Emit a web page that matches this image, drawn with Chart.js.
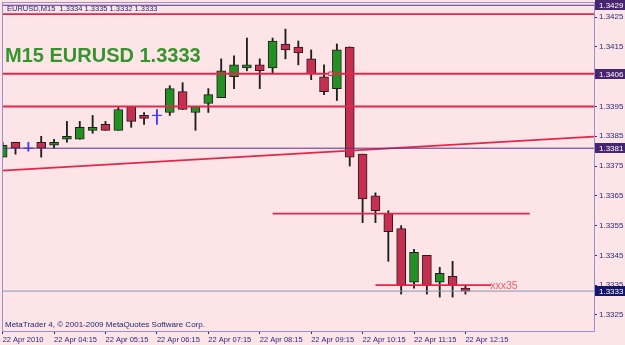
<!DOCTYPE html>
<html lang="en">
<head>
  <meta charset="UTF-8" />
  <title>EURUSD M15</title>
  <script src="https://cdn.jsdelivr.net/npm/chart.js@4.4.0/dist/chart.umd.min.js"></script>
  <style>
    html, body { margin: 0; padding: 0; background: #fde4e6; overflow: hidden; }
    #wrap { width: 625px; height: 345px; }
  </style>
</head>
<body>
  <div id="wrap"><canvas id="priceChart" width="625" height="345"></canvas></div>

  <script>
    // 15 minute bars, 22 Apr 2010
    const barTimes = ['03:15','03:30','03:45','04:00','04:15','04:30','04:45','05:00','05:15','05:30',
                      '05:45','06:00','06:15','06:30','06:45','07:00','07:15','07:30','07:45','08:00',
                      '08:15','08:30','08:45','09:00','09:15','09:30','09:45','10:00','10:15','10:30',
                      '10:45','11:00','11:15','11:30','11:45','12:00','12:15'];
    const opens  = [1.3378,1.3383,1.3381,1.3383,1.3382,1.3384,1.3384,1.3387,1.3389,1.3387,
                    1.3395,1.3392,1.3392,1.3393,1.3400,1.3393,1.3396,1.3398,1.3405,1.3408,
                    1.3409,1.3408,1.3416,1.3415,1.3411,1.3405,1.3401,1.3415,1.3379,1.3365,
                    1.3359,1.3354,1.3336,1.3345,1.3336,1.3338,1.3334];
    const highs  = [1.3383,1.3383,1.3383,1.3385,1.3384,1.3390,1.3390,1.3392,1.3390,1.3395,
                    1.3395,1.3393,1.3394,1.3402,1.3403,1.3395,1.3401,1.3411,1.3412,1.3418,
                    1.3411,1.3418,1.3421,1.3417,1.3414,1.3409,1.3416,1.3415,1.3379,1.3366,
                    1.3360,1.3355,1.3347,1.3345,1.3341,1.3343,1.3335];
    const lows   = [1.3378,1.3379,1.3380,1.3378,1.3381,1.3383,1.3384,1.3386,1.3387,1.3387,
                    1.3388,1.3389,1.3389,1.3392,1.3394,1.3387,1.3393,1.3398,1.3401,1.3407,
                    1.3401,1.3406,1.3411,1.3409,1.3404,1.3399,1.3397,1.3375,1.3356,1.3356,
                    1.3343,1.3332,1.3334,1.3332,1.3331,1.3331,1.3332];
    const closes = [1.3382,1.3381,1.3381,1.3381,1.3383,1.3385,1.3388,1.3388,1.3387,1.3394,
                    1.3390,1.3391,1.3392,1.3401,1.3394,1.3395,1.3399,1.3407,1.3409,1.3409,
                    1.3407,1.3417,1.3414,1.3413,1.3406,1.3400,1.3414,1.3378,1.3364,1.3360,
                    1.3353,1.3335,1.3346,1.3335,1.3339,1.3335,1.3333];

    // axis ticks
    const xTickBars = [0, 4, 8, 12, 16, 20, 24, 28, 32, 36];
    const xTickLabels = ['22 Apr 2010', '22 Apr 04:15', '22 Apr 05:15', '22 Apr 06:15', '22 Apr 07:15',
                         '22 Apr 08:15', '22 Apr 09:15', '22 Apr 10:15', '22 Apr 11:15', '22 Apr 12:15'];
    const yTicks = [1.3325, 1.3335, 1.3345, 1.3355, 1.3365, 1.3375, 1.3385, 1.3395, 1.3405, 1.3415, 1.3425];

    // chart objects
    const redLevels = [1.3426, 1.3406, 1.3395];
    const purpleLevels = [1.3429, 1.3381];
    const taggedLevels = [1.3429, 1.3406, 1.3381];
    const bidPrice = 1.3333;
    const trendPoints = [[-1, 1.33732], [47, 1.33851]];
    const levelSegment = [21, 41, 1.3359];
    const xxxSegment = [29, 38, 1.3335];
    const xxxLabel = 'xxx35';
    const anchorMark = [25.5, 1.3406];

    const BG = '#fde4e6';
    const NAVY = '#2a2a7e';
    const FRAME = '#9a8fd2';
    const RED = '#e3264b';
    const BULL = '#229022';
    const BEAR = '#c62f4f';
    const WICK = '#1e1e1e';
    const DOJI = '#3c3cff';
    const FONT = "'Liberation Sans', Arial, sans-serif";

    const isDoji = i => opens[i] === closes[i];
    const wickData = barTimes.map((t, i) => ({ x: i, y: [lows[i], highs[i]] }));
    const wickColors = barTimes.map((t, i) => isDoji(i) ? DOJI : WICK);
    const bodyData = barTimes.map((t, i) => ({ x: i, y: [opens[i], closes[i]] })).filter(d => !isDoji(d.x));
    const bodyColors = bodyData.map(d => closes[d.x] > opens[d.x] ? BULL : BEAR);
    const dojiData = barTimes.map((t, i) => ({ x: i, y: opens[i] })).filter(d => isDoji(d.x));

    const hLine = (y, color, width) => ({
      type: 'line',
      data: [{ x: -1, y: y }, { x: 47, y: y }],
      borderColor: color, borderWidth: width, pointRadius: 0, clip: 0, order: 1
    });
    const segLine = (seg, color, width) => ({
      type: 'line',
      data: [{ x: seg[0], y: seg[2] }, { x: seg[1], y: seg[2] }],
      borderColor: color, borderWidth: width, pointRadius: 0, clip: 0, order: 1
    });

    const background = {
      id: 'background',
      beforeDraw(chart) {
        const ctx = chart.ctx;
        ctx.save();
        ctx.fillStyle = BG;
        ctx.fillRect(0, 0, chart.width, chart.height);
        ctx.restore();
      }
    };

    const overlay = {
      id: 'overlay',
      afterDraw(chart) {
        const ctx = chart.ctx;
        const a = chart.chartArea;
        const xs = chart.scales.x, ys = chart.scales.y;
        ctx.save();

        // frame
        ctx.fillStyle = FRAME;
        ctx.fillRect(a.left, a.top, 1, a.bottom - a.top);
        ctx.fillRect(a.left, a.top, a.right - a.left, 1);
        ctx.fillRect(a.right, a.top, 1, a.bottom - a.top + 1);
        ctx.fillRect(a.left, a.bottom, a.right - a.left, 1);

        // price tags on the axis
        ctx.font = '8px ' + FONT;
        ctx.textBaseline = 'middle';
        ctx.textAlign = 'left';
        const tag = (v, fill) => {
          const y = Math.round(ys.getPixelForValue(v));
          ctx.fillStyle = fill;
          ctx.fillRect(a.right + 1, y - 5, chart.width - a.right - 1, 10);
          ctx.fillStyle = '#ffffff';
          ctx.fillText(v.toFixed(4), a.right + 5, y + 0.5);
        };
        taggedLevels.forEach(v => tag(v, '#47246e'));
        tag(bidPrice, '#15156a');

        // segment label
        ctx.font = '10.5px ' + FONT;
        ctx.fillStyle = '#f0606e';
        ctx.fillText(xxxLabel, xs.getPixelForValue(xxxSegment[1]) - 1, ys.getPixelForValue(xxxSegment[2]) + 1);

        // window texts
        const last = closes.length - 1;
        ctx.fillStyle = '#1e1e72';
        ctx.font = '7.5px ' + FONT;
        ctx.fillText('EURUSD,M15  ' + [opens[last], highs[last], lows[last], closes[last]].map(v => v.toFixed(4)).join(' '), 7, 8.5);
        ctx.font = '8px ' + FONT;
        ctx.fillText('MetaTrader 4, \u00a9 2001-2009 MetaQuotes Software Corp.', 5, 324.5);

        ctx.font = 'bold 20px ' + FONT;
        ctx.fillStyle = '#35952d';
        ctx.textBaseline = 'alphabetic';
        ctx.fillText('M15 EURUSD ' + closes[last].toFixed(4), 5, 61.5);
        ctx.restore();
      }
    };

    new Chart(document.getElementById('priceChart'), {
      type: 'bar',
      data: {
        datasets: [
          { data: wickData, backgroundColor: wickColors, barThickness: 1.2, grouped: false, clip: 0, order: 3 },
          { data: bodyData, backgroundColor: bodyColors, borderColor: '#261c20', borderWidth: 1,
            borderSkipped: false, barThickness: 9, grouped: false, clip: 0, order: 2 },
          { type: 'scatter', data: dojiData, pointStyle: 'line', pointRadius: 5, borderColor: DOJI,
            borderWidth: 1.2, clip: 0, order: 2 },
          ...redLevels.map(v => hLine(v, RED, 1.8)),
          ...purpleLevels.map(v => hLine(v, '#55308c', 1)),
          hLine(bidPrice, '#8a98b0', 1),
          { type: 'line', data: trendPoints.map(p => ({ x: p[0], y: p[1] })), borderColor: RED,
            borderWidth: 1.8, pointRadius: 0, clip: 0, order: 1 },
          segLine(levelSegment, RED, 1.8),
          segLine(xxxSegment, RED, 1.8),
          { type: 'scatter', data: [{ x: anchorMark[0], y: anchorMark[1] }], pointStyle: 'rect',
            pointRadius: 2.5, backgroundColor: '#fde4e6', borderColor: RED, borderWidth: 1, clip: 0, order: 0 }
        ]
      },
      options: {
        responsive: false,
        animation: false,
        devicePixelRatio: 1,
        layout: { autoPadding: false, padding: { left: 2, top: 2, right: 0, bottom: 0 } },
        plugins: { legend: { display: false }, tooltip: { enabled: false } },
        scales: {
          x: {
            type: 'linear', position: 'bottom', min: -0.05, max: 46, offset: false,
            grid: { offset: false, drawOnChartArea: false, drawTicks: true, tickLength: 3, color: NAVY },
            border: { display: false },
            ticks: {
              color: NAVY, font: { family: FONT, size: 7.5 }, align: 'start', padding: 1,
              autoSkip: false, maxRotation: 0, minRotation: 0,
              callback: (v, i) => xTickLabels[i]
            },
            afterBuildTicks: s => { s.ticks = xTickBars.map(v => ({ value: v })); },
            afterFit: s => { s.height = 14; s.paddingLeft = 0; s.paddingRight = 0; }
          },
          y: {
            type: 'linear', position: 'right', min: 1.33196, max: 1.34301, beginAtZero: false,
            grid: { drawOnChartArea: false, drawTicks: true, tickLength: 3, color: NAVY },
            border: { display: false },
            ticks: {
              color: NAVY, font: { family: FONT, size: 8 }, padding: 2,
              callback: v => v.toFixed(4)
            },
            afterBuildTicks: s => { s.ticks = yTicks.map(v => ({ value: v })); },
            afterFit: s => { s.width = 31; s.paddingTop = 0; s.paddingBottom = 0; }
          }
        }
      },
      plugins: [background, overlay]
    });
  </script>
</body>
</html>
